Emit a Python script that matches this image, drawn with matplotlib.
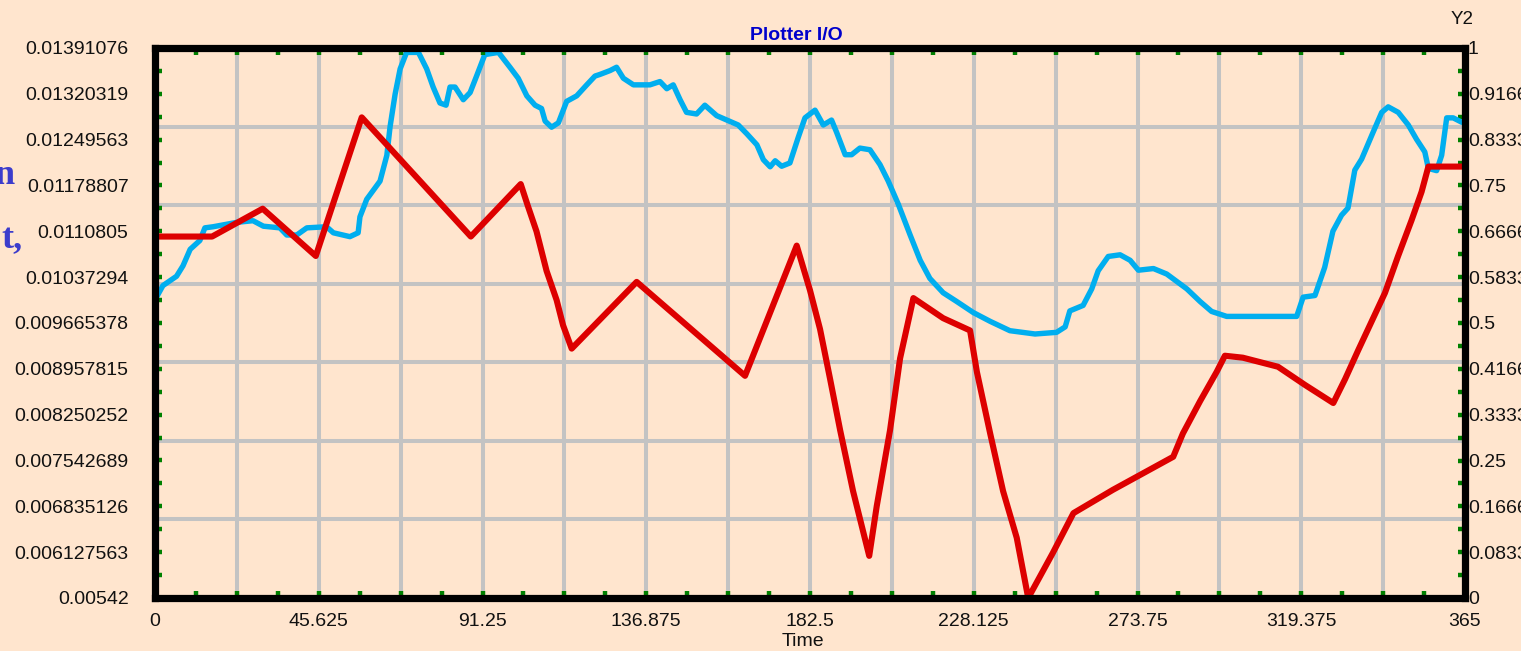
import matplotlib
matplotlib.use("Agg")
import matplotlib.pyplot as plt
import numpy as np

plt.rcParams['font.family'] = ['Liberation Sans', 'DejaVu Sans']

# ---------------- data ----------------
red_t = [0, 15.9, 30.0, 44.8, 57.6, 88.0, 101.9, 103.9, 106.3, 109.1, 111.9, 113.7,
         116.1, 134.2, 164.4, 178.8, 182.5, 185.3, 188.1, 190.9, 194.5, 199.0, 201.1,
         204.8, 207.6, 211.3, 219.6, 227.1, 229.0, 232.7, 236.3, 240.1, 243.3, 250.2,
         255.9, 266.9, 283.7, 286.4, 291.2, 295.8, 298.1, 303.1, 312.9, 320.4, 328.3,
         331.6, 335.2, 342.7, 346.3, 350.1, 352.9, 354.8, 365]
red_v = [0.01100, 0.01100, 0.01143, 0.01070, 0.01284, 0.01100, 0.01181, 0.01147,
         0.01108, 0.01047, 0.01002, 0.00963, 0.00927, 0.01030, 0.00885, 0.01086,
         0.01017, 0.00957, 0.00880, 0.00801, 0.00707, 0.00607, 0.00684, 0.00801,
         0.00912, 0.01005, 0.00974, 0.00955, 0.00891, 0.00796, 0.00707, 0.00635,
         0.00542, 0.00612, 0.00673, 0.00709, 0.00760, 0.00796, 0.00846, 0.00891,
         0.00916, 0.00913, 0.00899, 0.00871, 0.00843, 0.00880, 0.00924, 0.01013,
         0.01069, 0.01125, 0.01169, 0.01208, 0.01208]

blue_t = [0, 2.2, 6.0, 7.8, 9.8, 12.5, 13.9, 16.2, 22.8, 27.3, 30.2, 34.8, 36.7, 39.5,
          42.3, 47.8, 49.7, 54.3, 56.6, 57.1, 59.0, 62.7, 64.6, 65.5, 66.9, 68.3, 70.1,
          73.4, 75.7, 77.5, 79.4, 81.1, 82.2, 83.6, 85.9, 87.8, 89.6, 91.9, 95.7, 98.9,
          101.2, 103.6, 105.9, 107.7, 108.7, 110.5, 112.4, 114.7, 117.5, 120.3, 122.6,
          124.0, 126.8, 128.6, 130.5, 133.3, 137.9, 140.7, 142.6, 144.4, 146.3, 148.1,
          150.9, 153.2, 156.5, 159.3, 162.5, 164.9, 167.7, 169.5, 171.4, 172.8, 174.6,
          176.9, 179.2, 181.1, 183.9, 186.2, 188.5, 189.9, 192.3, 194.1, 196.4, 199.2,
          202.0, 204.3, 207.1, 210.4, 213.2, 215.9, 219.6, 223.4, 228.0, 232.7, 238.2,
          245.2, 251.2, 253.6, 254.9, 258.6, 261.0, 262.8, 265.6, 268.9, 271.7, 274.0,
          278.2, 281.9, 287.5, 291.2, 294.4, 298.6, 318.1, 319.9, 323.2, 325.9, 328.2,
          330.6, 332.4, 334.3, 336.2, 339.4, 341.8, 343.6, 346.4, 349.2, 351.5, 353.8,
          354.8, 357.1, 358.5, 359.9, 361.7, 364.1, 365]
blue_v = [0.542, 0.568, 0.585, 0.604, 0.634, 0.650, 0.673, 0.675, 0.683, 0.686, 0.676,
          0.673, 0.660, 0.660, 0.673, 0.675, 0.664, 0.657, 0.664, 0.693, 0.725, 0.758,
          0.805, 0.857, 0.916, 0.962, 0.992, 0.992, 0.962, 0.929, 0.900, 0.896, 0.929,
          0.929, 0.906, 0.919, 0.949, 0.988, 0.992, 0.965, 0.945, 0.913, 0.896, 0.890,
          0.867, 0.856, 0.864, 0.903, 0.913, 0.933, 0.949, 0.952, 0.959, 0.965, 0.945,
          0.933, 0.933, 0.939, 0.926, 0.933, 0.906, 0.883, 0.880, 0.896, 0.877, 0.869,
          0.860, 0.844, 0.824, 0.797, 0.784, 0.795, 0.785, 0.791, 0.837, 0.873, 0.887,
          0.860, 0.869, 0.847, 0.806, 0.806, 0.818, 0.815, 0.788, 0.758, 0.716, 0.660,
          0.614, 0.581, 0.555, 0.539, 0.519, 0.503, 0.486, 0.480, 0.483, 0.493, 0.522,
          0.532, 0.562, 0.595, 0.621, 0.624, 0.614, 0.596, 0.599, 0.589, 0.562, 0.539,
          0.521, 0.512, 0.512, 0.547, 0.550, 0.601, 0.667, 0.696, 0.709, 0.778, 0.798,
          0.847, 0.883, 0.893, 0.883, 0.860, 0.834, 0.811, 0.781, 0.777, 0.805, 0.873,
          0.873, 0.865, 0.865]

x_ticks = [0, 45.625, 91.25, 136.875, 182.5, 228.125, 273.75, 319.375, 365]
x_labels = ["0", "45.625", "91.25", "136.875", "182.5", "228.125", "273.75", "319.375", "365"]
y1_labels = ["0.00542", "0.006127563", "0.006835126", "0.007542689", "0.008250252",
             "0.008957815", "0.009665378", "0.01037294", "0.0110805", "0.01178807",
             "0.01249563", "0.01320319", "0.01391076"]
y2_labels = ["0", "0.0833333333", "0.1666666667", "0.25", "0.3333333333", "0.4166666667",
             "0.5", "0.5833333333", "0.6666666667", "0.75", "0.8333333333", "0.9166666667", "1"]

Y1_MIN, Y1_MAX = 0.00542, 0.01391076

# ---------------- style ----------------
BG = '#FFE5CE'
GRID = '#C3C3C3'
GREEN = '#008000'
BLUE = '#00AEEF'
RED = '#DD0000'

fig = plt.figure(figsize=(15.21, 6.51), dpi=100, facecolor=BG)
ax = fig.add_axes([155/1521, 1-598/651, 1310/1521, 550/651])
ax2 = ax.twinx()
ax.set_zorder(ax2.get_zorder() + 1)
ax.patch.set_visible(False)
ax2.patch.set_facecolor(BG)

ax.set_xlim(0, 365)
ax.set_ylim(Y1_MIN, Y1_MAX)
ax2.set_ylim(0, 1)

# grid (16 x 7 cells) on lower axes
for gx in np.linspace(0, 365, 17)[1:-1]:
    ax2.axvline(gx, color=GRID, lw=2.9, zorder=0.5)
for gy in np.linspace(0, 1, 8)[1:-1]:
    ax2.axhline(gy, color=GRID, lw=2.9, zorder=0.5)

ax2.plot(blue_t, blue_v, color=BLUE, lw=3.9, solid_joinstyle='round', zorder=2)
ax.plot(red_t, red_v, color=RED, lw=4.4, solid_joinstyle='round', zorder=2)

# ticks
ax.set_xticks(x_ticks)
ax.set_xticklabels(x_labels)
ax.set_xticks(np.linspace(0, 365, 33), minor=True)
y1_ticks = np.linspace(Y1_MIN, Y1_MAX, 13)
ax.set_yticks(y1_ticks)
ax.set_yticklabels(y1_labels)
ax.set_yticks(np.linspace(Y1_MIN, Y1_MAX, 25), minor=True)
ax2.set_yticks(np.linspace(0, 1, 13))
ax2.set_yticklabels(y2_labels)
ax2.set_yticks(np.linspace(0, 1, 25), minor=True)

ax.tick_params(axis='x', which='both', direction='in', length=5, width=3.2,
               color=GREEN, top=True, bottom=True, labelsize=14, pad=11, labelcolor='#111111')
ax.tick_params(axis='y', which='both', direction='in', length=5, width=3.2,
               color=GREEN, left=True, right=False, labelsize=14, pad=19, labelcolor='#111111')
ax2.tick_params(axis='y', which='both', direction='in', length=5, width=3.2,
                color=GREEN, right=True, left=False, labelsize=14, pad=2, labelcolor='#111111')

for s in ax.spines.values():
    s.set_linewidth(5.2)
    s.set_color('black')
for s in ax2.spines.values():
    s.set_visible(False)

# texts
fig.text(796.5/1521, 1-36/651, 'Plotter I/O', ha='center', va='center',
         fontsize=14, fontweight='bold', color='#0000CC')
fig.text(803/1521, 1-642/651, 'Time', ha='center', va='center', fontsize=14, color='#111111')
fig.text(1462/1521, 1-19/651, 'Y2', ha='center', va='center', fontsize=13.5, color='#111111')
fig.text(15/1521, 1-184/651, 'n', ha='right', va='baseline', fontsize=26,
         fontweight='bold', color='#3C3CCC', family=['Liberation Serif', 'DejaVu Serif'])
fig.text(22/1521, 1-248/651, 't,', ha='right', va='baseline', fontsize=26,
         fontweight='bold', color='#3C3CCC', family=['Liberation Serif', 'DejaVu Serif'])

fig.savefig('out.png', dpi=100, facecolor=BG)
